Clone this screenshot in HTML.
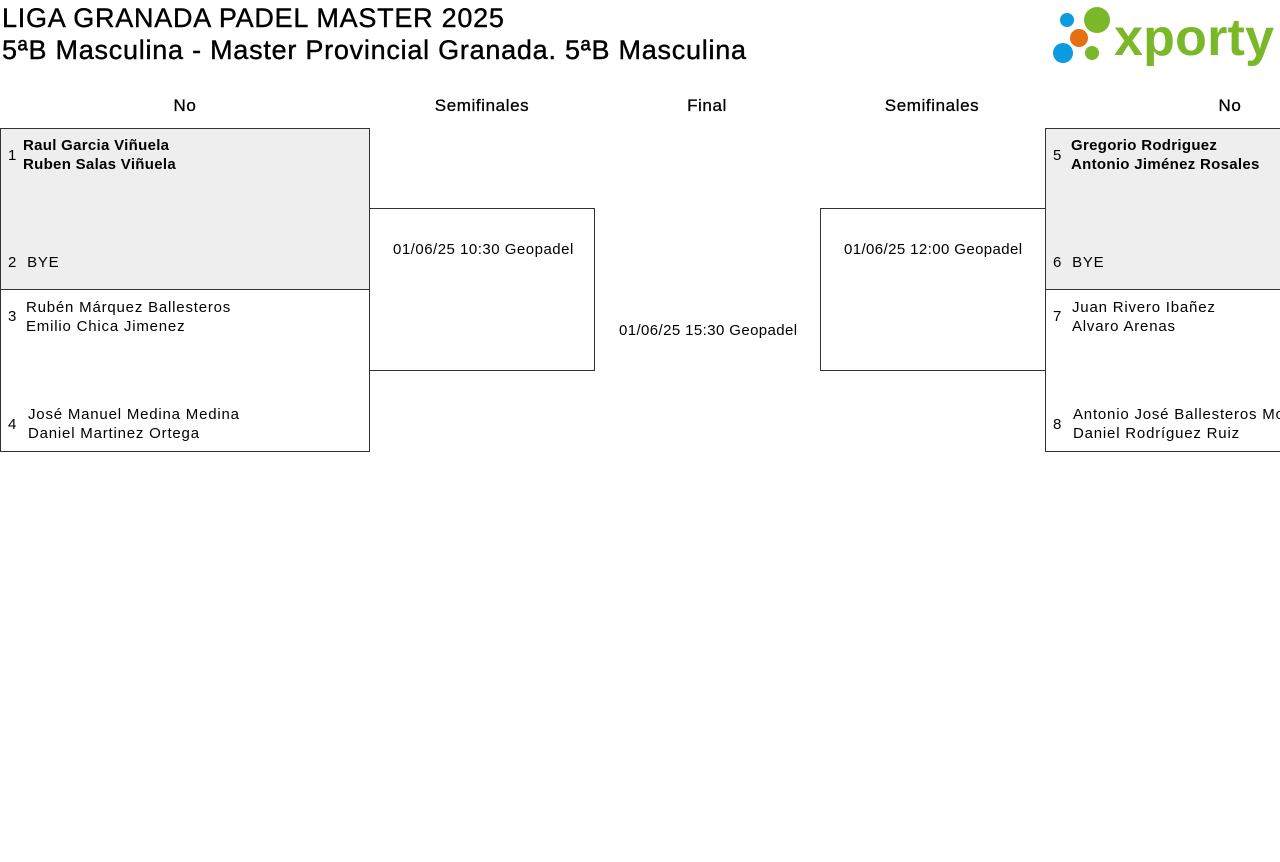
<!DOCTYPE html><html><head><meta charset="utf-8"><style>
body{margin:0;width:1280px;height:862px;overflow:hidden;background:#fff;font-family:"Liberation Sans",sans-serif;color:#000;position:relative}
.a{position:absolute;white-space:nowrap}
.box{position:absolute;border:1px solid #333;box-sizing:border-box}
.t{font-size:15px;line-height:19px;letter-spacing:0.8px}
.h{font-size:17px;text-align:center;width:200px;margin-left:-100px;letter-spacing:0.6px;-webkit-text-stroke:0.3px #000;top:96px}
</style></head><body>
<div class="a" style="left:2px;top:2px;font-size:27px;line-height:32px;letter-spacing:0.75px;-webkit-text-stroke:0.4px #000">LIGA GRANADA PADEL MASTER 2025<br>5ªB Masculina - Master Provincial Granada. 5ªB Masculina</div>
<svg class="a" style="left:1050px;top:3px" width="226" height="64">
<circle cx="17" cy="17" r="7" fill="#0a9be0"/><circle cx="13" cy="50" r="10" fill="#0a9be0"/>
<circle cx="29" cy="35" r="9" fill="#e5700f"/><circle cx="47" cy="17" r="13" fill="#7ab829"/><circle cx="42" cy="50" r="7" fill="#7ab829"/>
<text x="64" y="52" font-family="Liberation Sans" font-weight="bold" font-size="52" fill="#7ab829" textLength="160">xporty</text></svg>
<div class="a h" style="left:185px">No</div>
<div class="a h" style="left:482px">Semifinales</div>
<div class="a h" style="left:707px">Final</div>
<div class="a h" style="left:932px">Semifinales</div>
<div class="a h" style="left:1230px">No</div>
<div class="box" style="left:0;top:128px;width:370px;height:162px;background:#eee"></div>
<div class="box" style="left:0;top:289px;width:370px;height:163px"></div>
<div class="box" style="left:369px;top:208px;width:226px;height:163px"></div>
<div class="box" style="left:820px;top:208px;width:226px;height:163px"></div>
<div class="box" style="left:1045px;top:128px;width:240px;height:162px;background:#eee"></div>
<div class="box" style="left:1045px;top:289px;width:240px;height:163px"></div>
<div class="a t" style="left:8px;top:146px">1</div><div class="a t" style="left:23px;top:136px;font-weight:bold;letter-spacing:0.3px">Raul Garcia Viñuela<br>Ruben Salas Viñuela</div>
<div class="a t" style="left:8px;top:253px">2&nbsp;&nbsp;BYE</div>
<div class="a t" style="left:8px;top:307px">3</div><div class="a t" style="left:26px;top:298px">Rubén Márquez Ballesteros<br>Emilio Chica Jimenez</div>
<div class="a t" style="left:8px;top:415px">4</div><div class="a t" style="left:28px;top:405px">José Manuel Medina Medina<br>Daniel Martinez Ortega</div>
<div class="a t" style="left:393px;top:240px;letter-spacing:0.5px">01/06/25 10:30 Geopadel</div>
<div class="a t" style="left:619px;top:321px;letter-spacing:0.4px">01/06/25 15:30 Geopadel</div>
<div class="a t" style="left:844px;top:240px;letter-spacing:0.4px">01/06/25 12:00 Geopadel</div>
<div class="a t" style="left:1053px;top:146px">5</div><div class="a t" style="left:1071px;top:136px;font-weight:bold;letter-spacing:0.3px">Gregorio Rodriguez<br>Antonio Jiménez Rosales</div>
<div class="a t" style="left:1053px;top:253px">6&nbsp;&nbsp;BYE</div>
<div class="a t" style="left:1053px;top:307px">7</div><div class="a t" style="left:1072px;top:298px">Juan Rivero Ibañez<br>Alvaro Arenas</div>
<div class="a t" style="left:1053px;top:415px">8</div><div class="a t" style="left:1073px;top:405px">Antonio José Ballesteros Mo<br>Daniel Rodríguez Ruiz</div>
</body></html>
